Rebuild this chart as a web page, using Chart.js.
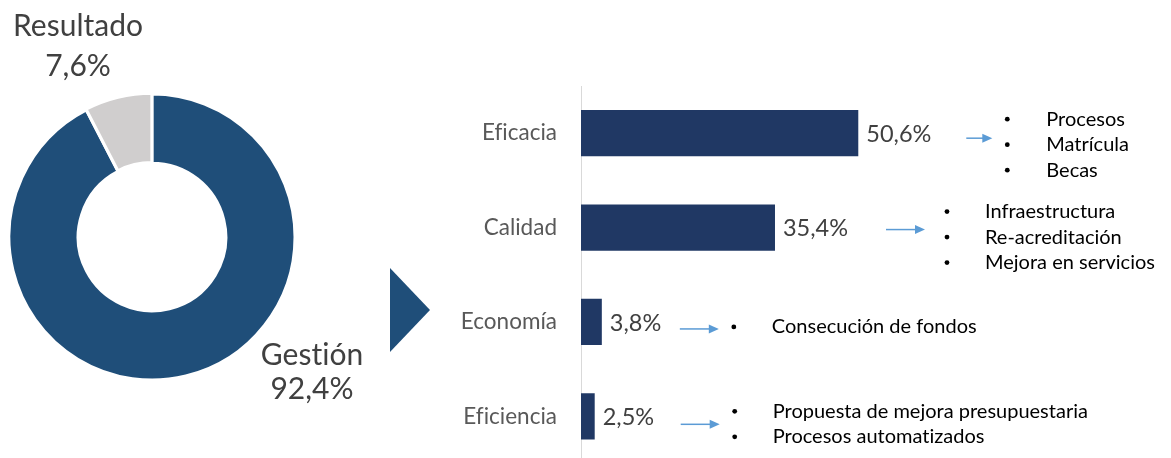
<!DOCTYPE html>
<html>
<head>
<meta charset="utf-8">
<script src="https://cdn.jsdelivr.net/npm/chart.js@4/dist/chart.umd.min.js"></script>
<style>
  html, body { margin: 0; padding: 0; background: #fff; overflow: hidden; }
  #wrap { position: relative; width: 1171px; height: 458px; overflow: hidden; }
  #bars, #donut { position: absolute; left: 0; top: 0; }
</style>
</head>
<body>
<div id="wrap">
  <canvas id="bars" width="1171" height="501"></canvas>
  <canvas id="donut" width="440" height="458"></canvas>
</div>
<script>
// --- Data ---
const donutLabels = ['Gestión', 'Resultado']
const donutValues = [92.4, 7.6]

const categories = ['Eficacia', 'Calidad', 'Economía', 'Eficiencia']
const shares = [50.6, 35.4, 3.8, 2.5]
const notes = [
  ['Procesos', 'Matrícula', 'Becas'],
  ['Infraestructura', 'Re-acreditación', 'Mejora en servicios'],
  ['Consecución de fondos'],
  ['Propuesta de mejora presupuestaria', 'Procesos automatizados']
]

const FONT = "Lato, 'Open Sans', sans-serif"
const pct = v => v.toFixed(1).replace('.', ',') + '%'

// per-row placement of arrow + bullet list (offsets from bar end / bar centre)
const noteLayout = [
  { ax0: 108, ax1: 134, ay: 5, bx: 149, tx: 188, ty: -14 },
  { ax0: 111, ax1: 150, ay: 2, bx: 172, tx: 210, ty: -16 },
  { ax0: 78, ax1: 117, ay: 7, bx: 132, tx: 170, ty: 5 },
  { ax0: 86, ax1: 125, ay: 8, bx: 140, tx: 178, ty: -5 }
]

// Calibri-like look: no fi ligatures
const plainText = {
  id: 'plainText',
  beforeDraw(chart) { chart.ctx.textRendering = 'optimizeSpeed' }
}

// --- Bar chart ---
const barNotes = {
  id: 'barNotes',
  afterDatasetsDraw(chart) {
    const ctx = chart.ctx
    const meta = chart.getDatasetMeta(0)
    ctx.save()
    meta.data.forEach((bar, i) => {
      const x = bar.x, y = bar.y
      ctx.font = '23.5px ' + FONT
      ctx.fillStyle = '#404040'
      ctx.textAlign = 'left'
      ctx.textBaseline = 'middle'
      ctx.fillText(pct(shares[i]), x + 8, y + 1)

      const L = noteLayout[i]
      // arrow
      const ay = y + L.ay
      ctx.strokeStyle = '#5B9BD5'
      ctx.fillStyle = '#5B9BD5'
      ctx.lineWidth = 1.5
      ctx.beginPath()
      ctx.moveTo(x + L.ax0, ay)
      ctx.lineTo(x + L.ax1 - 9, ay)
      ctx.stroke()
      ctx.beginPath()
      ctx.moveTo(x + L.ax1, ay)
      ctx.lineTo(x + L.ax1 - 10, ay - 4.5)
      ctx.lineTo(x + L.ax1 - 10, ay + 4.5)
      ctx.closePath()
      ctx.fill()

      // bullet list
      ctx.fillStyle = '#000'
      ctx.font = '20px ' + FONT
      notes[i].forEach((t, k) => {
        const ty = y + L.ty + k * 25.5
        ctx.beginPath()
        ctx.arc(x + L.bx, ty, 2.4, 0, Math.PI * 2)
        ctx.fill()
        ctx.fillText(t, x + L.tx, ty)
      })
    })
    ctx.restore()
  }
}

new Chart(document.getElementById('bars'), {
  type: 'bar',
  data: {
    labels: categories,
    datasets: [{
      data: shares,
      backgroundColor: '#203864',
      barPercentage: 0.49,
      categoryPercentage: 1
    }]
  },
  options: {
    responsive: false,
    animation: false,
    indexAxis: 'y',
    layout: { padding: { top: 86, bottom: 10, right: 42, left: 0 } },
    plugins: { legend: { display: false }, tooltip: { enabled: false } },
    scales: {
      x: { display: false, min: 0, max: 100 },
      y: {
        grid: { display: false, drawTicks: false },
        border: { display: true, color: '#D9D9D9', width: 1 },
        ticks: { color: '#595959', padding: 24, font: { family: FONT, size: 22.5 } },
        afterFit(scale) { scale.width = 581 }
      }
    }
  },
  plugins: [plainText, barNotes]
})

// --- Doughnut ---
const donutDecor = {
  id: 'donutDecor',
  afterDraw(chart) {
    const ctx = chart.ctx
    const arc = chart.getDatasetMeta(0).data[0]
    const cx = arc.x, cy = arc.y
    ctx.save()
    ctx.fillStyle = '#404040'
    ctx.font = '30px ' + FONT
    ctx.textAlign = 'center'
    ctx.textBaseline = 'middle'
    ctx.fillText(donutLabels[1], cx - 74, cy - 211)
    ctx.fillText(pct(donutValues[1]), cx - 74, cy - 171)
    ctx.fillText(donutLabels[0], cx + 160, cy + 118)
    ctx.fillText(pct(donutValues[0]), cx + 160, cy + 152)

    // pointer triangle toward the bar chart
    ctx.fillStyle = '#1F4E79'
    ctx.beginPath()
    ctx.moveTo(cx + 238, cy + 31)
    ctx.lineTo(cx + 278, cy + 73)
    ctx.lineTo(cx + 238, cy + 115)
    ctx.closePath()
    ctx.fill()
    ctx.restore()
  }
}

new Chart(document.getElementById('donut'), {
  type: 'doughnut',
  data: {
    labels: donutLabels,
    datasets: [{
      data: donutValues,
      backgroundColor: ['#1F4E79', '#D0CECE'],
      borderColor: '#fff',
      borderWidth: 3,
      offset: [0, 2]
    }]
  },
  options: {
    responsive: false,
    animation: false,
    radius: 143,
    cutout: 72,
    layout: { padding: { left: 10, top: 95, right: 146, bottom: 79 } },
    plugins: { legend: { display: false }, tooltip: { enabled: false } }
  },
  plugins: [plainText, donutDecor]
})
</script>
</body>
</html>
